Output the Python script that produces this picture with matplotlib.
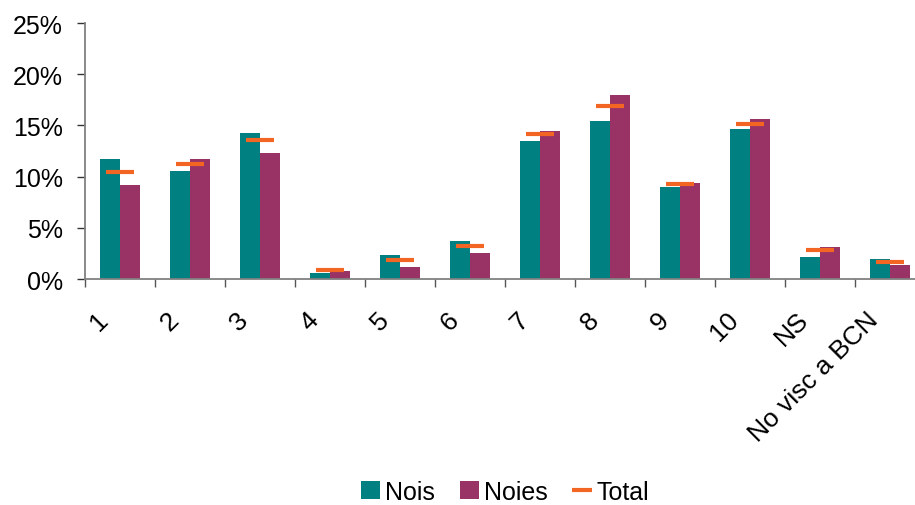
import numpy as np
import matplotlib.pyplot as plt
import matplotlib.transforms as mtransforms
from matplotlib.lines import Line2D
from matplotlib.ticker import FuncFormatter

# dades llegides del gràfic (%)
categories = ['1', '2', '3', '4', '5', '6', '7', '8', '9', '10', 'NS', 'No visc a BCN']
nois = [11.7, 10.5, 14.3, 0.6, 2.3, 3.7, 13.5, 15.4, 9.0, 14.6, 2.1, 1.95]
noies = [9.2, 11.7, 12.3, 0.8, 1.2, 2.5, 14.45, 18.0, 9.4, 15.6, 3.1, 1.4]
total = [10.45, 11.2, 13.6, 0.9, 1.85, 3.2, 14.2, 16.9, 9.3, 15.1, 2.8, 1.65]

C_NOIS = '#008080'
C_NOIES = '#993366'
C_TOTAL = '#F26522'

plt.rcParams['font.family'] = ['Liberation Sans', 'DejaVu Sans']

fig = plt.figure(figsize=(9.15, 5.06), dpi=100)
W, H = 915, 506
# l'eix sobresurt una mica per la dreta, com a l'original
ax = fig.add_axes([85 / W, (H - 280) / H, 840 / W, 256 / H])

x = np.arange(len(categories))
bw = 0.29
b1 = ax.bar(x - bw / 2, nois, bw, color=C_NOIS, label='Nois')
b2 = ax.bar(x + bw / 2, noies, bw, color=C_NOIES, label='Noies')
ax.plot(x, total, ls='none', marker='_', ms=20, mew=3, color=C_TOTAL, label='Total')

ax.set_xlim(-0.5, len(categories) - 0.5)
ax.set_ylim(0, 25)
ax.set_yticks(np.arange(0, 26, 5))
ax.yaxis.set_major_formatter(FuncFormatter(lambda v, p: f'{v:.0f}%'))

# ticks de l'eix x als límits entre categories
ax.set_xticks(np.arange(-0.5, len(categories), 1.0))
ax.set_xticklabels([])
ax.set_xticks(x, minor=True)
ax.set_xticklabels(categories, minor=True, rotation=45, ha='right',
                   rotation_mode='anchor', fontsize=19)
ax.tick_params(axis='x', which='minor', length=0, pad=20)
offset = mtransforms.ScaledTranslation(-17 / 72, 0, fig.dpi_scale_trans)
for lab in ax.xaxis.get_minorticklabels():
    lab.set_transform(lab.get_transform() + offset)

ax.tick_params(axis='x', which='major', length=6, width=1, direction='out', color='#555555')
ax.tick_params(axis='y', length=6, width=1, direction='out', labelsize=18, pad=10, color='#333333')

for s in ['top', 'right']:
    ax.spines[s].set_visible(False)
ax.spines['left'].set_color('#808080')
ax.spines['bottom'].set_color('#808080')
ax.spines['left'].set_linewidth(1.3)
ax.spines['bottom'].set_linewidth(1.3)

h_total = Line2D([], [], ls='none', marker='_', ms=14, mew=3, color=C_TOTAL)
fig.legend([b1, b2, h_total], ['Nois', 'Noies', 'Total'], loc='center',
           bbox_to_anchor=(505 / W, 1 - 493 / H), ncol=3, frameon=False,
           fontsize=18, handlelength=0.75, handleheight=0.75, handletextpad=0.2,
           columnspacing=1.0, borderaxespad=0)

fig.savefig('out.png', dpi=100)
